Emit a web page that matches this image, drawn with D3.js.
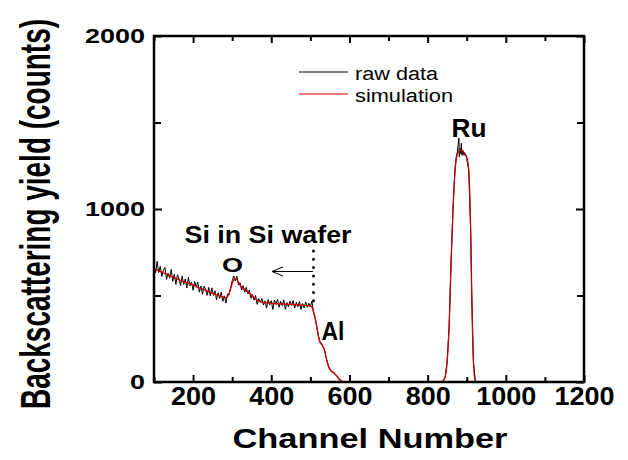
<!DOCTYPE html>
<html>
<head>
<meta charset="utf-8">
<script src="https://cdn.jsdelivr.net/npm/d3@7"></script>
<style>
  html, body { margin: 0; padding: 0; background: #fff; }
  svg { display: block; }
  svg text { font-family: 'Liberation Sans', Arial, sans-serif !important; }
</style>
</head>
<body>
<svg id="chart" width="628" height="460"></svg>
<script>
// ---- data ----
const xMajorTicks = [200, 400, 600, 800, 1000, 1200];
const xMinorTicks = [100, 300, 500, 700, 900, 1100];
const yMajorTicks = [0, 1000, 2000];
const yMinorTicks = [500, 1500];

const rawLowCh = d3.range(100, 604, 4);
const rawLowY = [
  680,631,697,633,669,610,646,662,593,629,
  600,651,582,623,564,620,596,557,613,564,
  596,543,605,556,578,530,581,547,578,519,
  555,507,554,535,501,547,498,544,500,527,
  474,516,483,519,466,498,456,509,505,546,
  585,613,585,612,562,575,531,557,519,547,
  510,532,484,506,473,500,449,483,460,482,
  445,469,427,476,446,470,419,474,448,478,
  432,466,441,475,420,460,434,468,442,471,
  427,461,435,465,419,454,428,463,432,456,
  435,467,400,375,320,280,230,226,205,190,
  140,113,78,72,55,57,40,36,19,16,
  5,1,0,0,0,0
];
const rawRuCh = [700, 830, 840, 845, 850, 855, 860, 865, 870, 873, 876, 878, 880, 881, 883, 885, 886, 888, 890, 893, 896, 900, 905, 910, 913, 917, 922, 930, 1025];
const rawRuY  = [0,   0,   5,   30,  125, 320, 700, 1010,1230,1300,1330,1370,1410,1300,1350,1320,1380,1310,1340,1310,1320,1290,1225,890, 490, 125, 5,   0,   0];

const simCh = [100,110,120,130,140,150,160,170,180,190,200,210,220,230,240,250,260,270,280,
  285,290,295,300,305,310,315,320,
  330,340,350,360,370,380,390,400,
  420,440,460,480,500,
  505,510,515,520,525,530,535,540,545,550,555,560,565,570,575,580,
  590,700,830,
  840,845,850,855,860,865,870,875,880,885,890,895,900,905,910,
  913,917,922,930,1025];
const simY = [655,645,635,625,615,605,595,585,576,568,560,550,540,532,522,512,504,496,488,
  486,500,530,570,592,595,580,560,
  538,520,500,480,466,460,457,455,
  452,450,447,444,440,
  430,390,340,270,228,215,190,145,100,72,60,52,42,28,12,3,
  0,0,0,
  8,30,120,320,690,1000,1215,1310,1335,1340,1335,1320,1300,1235,880,
  480,125,5,0,0];

const seriesNames = ["raw data", "simulation"];
const seriesColors = ["#000000", "#cc0000"];

// ---- layout ----
const W = 628, H = 460;
const L = 154, R = 584, T = 36, B = 382;
const FONT = "'Liberation Sans', Arial, sans-serif";
const svg = d3.select("#chart");
svg.append("rect").attr("width", W).attr("height", H).attr("fill", "#fff");

const x = d3.scaleLinear().domain([100, 1200]).range([L, R]);
const y = d3.scaleLinear().domain([0, 2000]).range([B, T]);

svg.append("defs").append("clipPath").attr("id", "clip")
  .append("rect").attr("x", L).attr("y", T).attr("width", R - L).attr("height", B - T);

const rawPts = rawLowCh.map((c, i) => [c, rawLowY[i]]).concat(rawRuCh.map((c, i) => [c, rawRuY[i]]));
const simPts = simCh.map((c, i) => [c, simY[i]]);

const lineRaw = d3.line().x(d => x(d[0])).y(d => y(d[1]));
const lineSim = d3.line().x(d => x(d[0])).y(d => y(d[1])).curve(d3.curveMonotoneX);

const plot = svg.append("g").attr("clip-path", "url(#clip)");
plot.append("path").datum(rawPts).attr("d", lineRaw)
  .attr("fill", "none").attr("stroke", seriesColors[0]).attr("stroke-width", 1);
plot.append("path").datum(simPts).attr("d", lineSim)
  .attr("fill", "none").attr("stroke", seriesColors[1]).attr("stroke-width", 1.3);

// ---- axes ----
function styleAxis(g) {
  g.attr("font-family", FONT);
  g.select(".domain").remove();
  g.selectAll(".tick line").attr("stroke", "#000").attr("stroke-width", 2);
}
// bottom
svg.append("g").attr("transform", `translate(0,${B})`)
  .call(d3.axisBottom(x).tickValues(xMajorTicks).tickSizeInner(-7).tickSizeOuter(0).tickPadding(5).tickFormat(d3.format("d")))
  .call(styleAxis)
  .call(g => g.selectAll("text").attr("fill", "#000")
    .style("font-size", "25px").style("font-weight", "bold")
    .attr("textLength", d => String(d).length * 15).attr("lengthAdjust", "spacingAndGlyphs"));
svg.append("g").attr("transform", `translate(0,${B})`)
  .call(d3.axisBottom(x).tickValues(xMinorTicks).tickSizeInner(-5).tickSizeOuter(0).tickFormat(""))
  .call(styleAxis);
// top
svg.append("g").attr("transform", `translate(0,${T})`)
  .call(d3.axisTop(x).tickValues(xMajorTicks).tickSizeInner(-7).tickSizeOuter(0).tickFormat(""))
  .call(styleAxis);
svg.append("g").attr("transform", `translate(0,${T})`)
  .call(d3.axisTop(x).tickValues(xMinorTicks).tickSizeInner(-5).tickSizeOuter(0).tickFormat(""))
  .call(styleAxis);
// left
svg.append("g").attr("transform", `translate(${L},0)`)
  .call(d3.axisLeft(y).tickValues(yMajorTicks).tickSizeInner(-8).tickSizeOuter(0).tickPadding(9).tickFormat(d3.format("d")))
  .call(styleAxis)
  .call(g => g.selectAll("text").attr("fill", "#000")
    .style("font-size", "21px").style("font-weight", "bold")
    .attr("textLength", d => String(d).length * 15).attr("lengthAdjust", "spacingAndGlyphs"));
svg.append("g").attr("transform", `translate(${L},0)`)
  .call(d3.axisLeft(y).tickValues(yMinorTicks).tickSizeInner(-7).tickSizeOuter(0).tickFormat(""))
  .call(styleAxis);
// right
svg.append("g").attr("transform", `translate(${R},0)`)
  .call(d3.axisRight(y).tickValues(yMajorTicks).tickSizeInner(-8).tickSizeOuter(0).tickFormat(""))
  .call(styleAxis);
svg.append("g").attr("transform", `translate(${R},0)`)
  .call(d3.axisRight(y).tickValues(yMinorTicks).tickSizeInner(-7).tickSizeOuter(0).tickFormat(""))
  .call(styleAxis);

// frame
svg.append("rect").attr("x", L).attr("y", T).attr("width", R - L).attr("height", B - T)
  .attr("fill", "none").attr("stroke", "#000").attr("stroke-width", 2.5);

// ---- axis titles ----
svg.append("text").attr("x", 370).attr("y", 448).attr("text-anchor", "middle")
  .style("font-family", FONT)
  .style("font-size", "28px").style("font-weight", "bold")
  .attr("textLength", 275).attr("lengthAdjust", "spacingAndGlyphs")
  .text("Channel Number");
svg.append("text").attr("transform", "translate(50,214) scale(1.5,1) rotate(-90)")
  .attr("text-anchor", "middle")
  .style("font-family", FONT)
  .style("font-size", "28px").style("font-weight", "bold")
  .attr("textLength", 390).attr("lengthAdjust", "spacingAndGlyphs")
  .text("Backscattering yield (counts)");

// ---- legend ----
const legY = [72, 94];
seriesNames.forEach((name, i) => {
  svg.append("line").attr("x1", 299).attr("x2", 348).attr("y1", legY[i]).attr("y2", legY[i])
    .attr("stroke", seriesColors[i]).attr("stroke-width", 1.2);
  svg.append("text").attr("x", 355).attr("y", legY[i] + 7.5)
    .style("font-family", FONT)
    .style("font-size", "18px")
    .attr("textLength", i === 0 ? 83 : 98).attr("lengthAdjust", "spacingAndGlyphs")
    .text(name);
});

// ---- annotations ----
function label(txt, cx, by, size, len) {
  const t = svg.append("text").attr("x", cx).attr("y", by).attr("text-anchor", "middle")
    .style("font-family", FONT)
    .style("font-size", size + "px").style("font-weight", "bold").text(txt);
  if (len) t.attr("textLength", len).attr("lengthAdjust", "spacingAndGlyphs");
}
label("Ru", 469, 137, 26, 35);
label("Si in Si wafer", 268, 243, 23, 167);
label("O", 232.5, 271.5, 21, 21);
label("Al", 333, 340, 25, 23);

// arrow
svg.append("line").attr("x1", 272).attr("x2", 313).attr("y1", 271.5).attr("y2", 271.5)
  .attr("stroke", "#000").attr("stroke-width", 1);
svg.append("path").attr("d", "M283,267 L272,271.5 L283,276")
  .attr("fill", "none").attr("stroke", "#000").attr("stroke-width", 1);
// dotted line
svg.append("line").attr("x1", 313.5).attr("x2", 313.5).attr("y1", 251).attr("y2", 301)
  .attr("stroke", "#000").attr("stroke-width", 3).attr("stroke-linecap", "round")
  .attr("stroke-dasharray", "0,8.3");
</script>
</body>
</html>
